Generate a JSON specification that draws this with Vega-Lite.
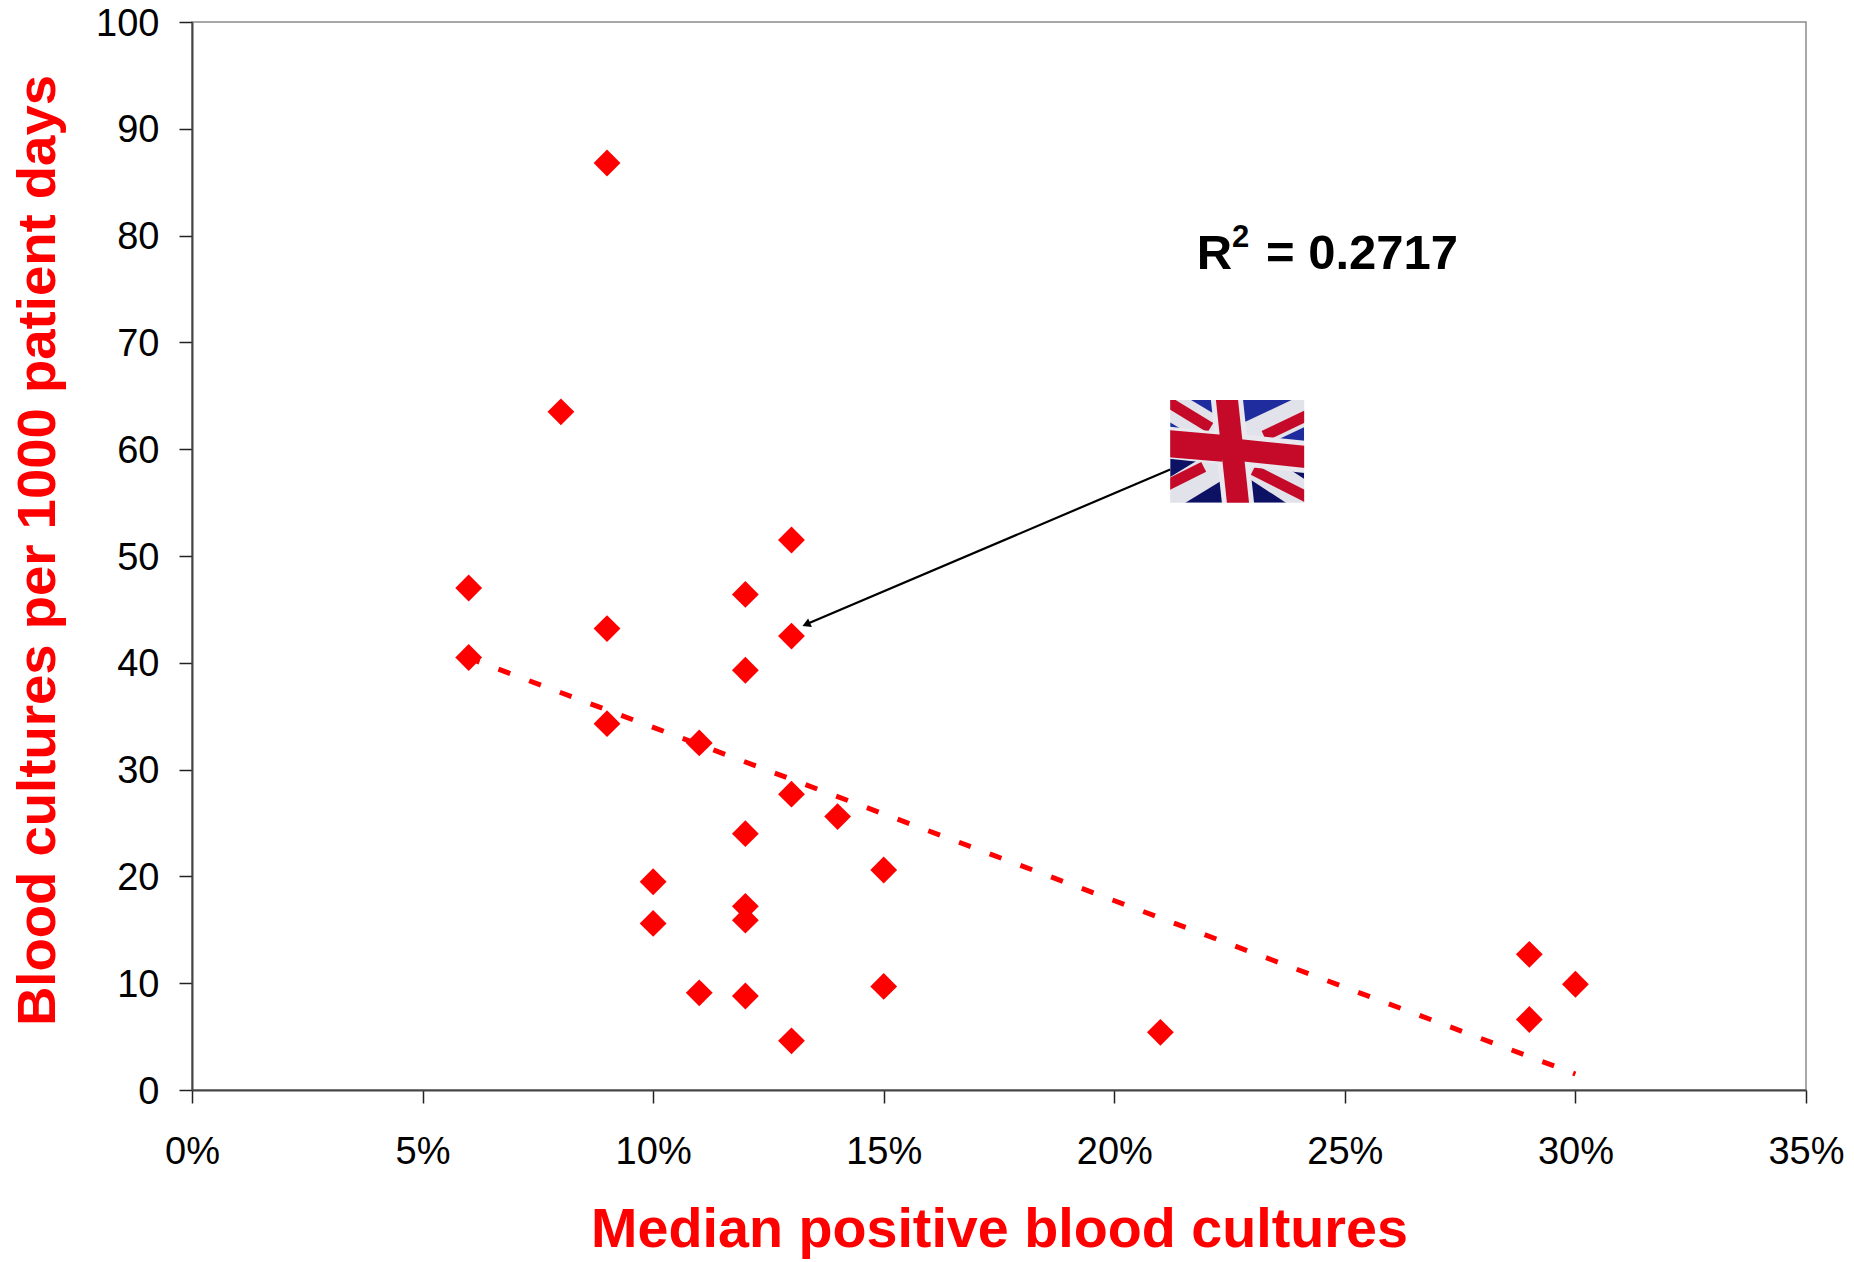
{
"$schema":"https://vega.github.io/schema/vega-lite/v6.json",
"width":1614,"height":1068,
"autosize":"none",
"padding":{"left":192,"top":22,"right":48,"bottom":172},
"background":"white",
"config":{"font":"Liberation Sans","view":{"stroke":"#8c8c8c","strokeWidth":1.5}},
"datasets":{
"points":[{"x":0.06,"y":47},{"x":0.06,"y":40.5},{"x":0.08,"y":63.5},{"x":0.09,"y":86.8},{"x":0.09,"y":43.2},{"x":0.09,"y":34.3},{"x":0.10,"y":19.5},{"x":0.10,"y":15.6},{"x":0.11,"y":32.5},{"x":0.11,"y":9.1},{"x":0.12,"y":46.4},{"x":0.12,"y":39.3},{"x":0.12,"y":24},{"x":0.12,"y":17.2},{"x":0.12,"y":15.9},{"x":0.12,"y":8.8},{"x":0.13,"y":51.5},{"x":0.13,"y":42.5},{"x":0.13,"y":27.7},{"x":0.13,"y":4.6},{"x":0.14,"y":25.6},{"x":0.15,"y":20.6},{"x":0.15,"y":9.7},{"x":0.21,"y":5.4},{"x":0.29,"y":12.7},{"x":0.29,"y":6.6},{"x":0.30,"y":9.9}],
"trend":[{"x":0.06,"y":40.45},{"x":0.30,"y":1.5}],
"arrow":[{"x":0.21212,"y":58.1},{"x":0.1332,"y":43.6}],
"arrowHead":[{"x":0.1332,"y":43.6}],
"noteMain":[{"x":0.2179,"y":76.9,"label":"R"},{"x":0.2329,"y":76.9,"label":"= 0.2717"}],
"noteSup":[{"x":0.2255,"y":78.9,"label":"2"}],
"flagRects":[{"part":"top","x":0.21212,"x2":0.24118,"y":64.6,"y2":59.8},{"part":"bottom","x":0.21212,"x2":0.24118,"y":59.8,"y2":54.99}],
"flagMask":[{"x":0.205,"x2":0.21212,"y":53,"y2":67},{"x":0.24118,"x2":0.248,"y":53,"y2":67},{"x":0.205,"x2":0.248,"y":64.6,"y2":67},{"x":0.205,"x2":0.248,"y":53,"y2":54.99}],
"flagDiag":[
{"seg":"w1","x":0.2092,"y":64.89},{"seg":"w1","x":0.2252,"y":60.76},
{"seg":"w2","x":0.22956,"y":58.83},{"seg":"w2","x":0.24415,"y":54.7},
{"seg":"w3","x":0.24415,"y":64.22},{"seg":"w3","x":0.2281,"y":60.95},
{"seg":"w4","x":0.22374,"y":58.83},{"seg":"w4","x":0.2092,"y":54.99}],
"flagRed":[
{"seg":"r1","x":0.2092,"y":65.08},{"seg":"r1","x":0.22084,"y":62.01},
{"seg":"r2","x":0.23014,"y":58.07},{"seg":"r2","x":0.24415,"y":54.99},
{"seg":"r3","x":0.24415,"y":63.64},{"seg":"r3","x":0.23246,"y":61.24},
{"seg":"r4","x":0.21939,"y":58.35},{"seg":"r4","x":0.2092,"y":56.14}],
"flagCross":[
{"seg":"v","x":0.22432,"y":65.08},{"seg":"v","x":0.22694,"y":54.51},
{"seg":"h","x":0.2107,"y":60.66},{"seg":"h","x":0.24263,"y":59.22}],
"flagBand":[{"x":0.2107,"y":60.56},{"x":0.2237,"y":60.08}]
},
"encoding":{
"x":{"field":"x","type":"quantitative","scale":{"domain":[0,0.35],"nice":false},
"axis":{"values":[0,0.05,0.1,0.15,0.2,0.25,0.3,0.35],"format":".0%","grid":false,"title":"Median positive blood cultures","titleFont":"Liberation Sans","titleFontSize":55.7,"titleFontWeight":"bold","titleColor":"#ff0000","titleX":807,"titleY":156,"titleBaseline":"alphabetic","labelFontSize":38,"labelColor":"#000000","labelPadding":30,"labelFlush":false,"labelOverlap":false,"domainColor":"#444444","domainWidth":2,"tickColor":"#222222","tickSize":13,"tickWidth":1.5}},
"y":{"field":"y","type":"quantitative","scale":{"domain":[0,100],"nice":false},
"axis":{"values":[0,10,20,30,40,50,60,70,80,90,100],"grid":false,"title":"Blood cultures per 1000 patient days","titleFont":"Liberation Sans","titleFontSize":54.5,"titleFontWeight":"bold","titleColor":"#ff0000","titleX":-138,"titleY":528,"titleBaseline":"alphabetic","labelFontSize":38,"labelColor":"#000000","labelPadding":20,"labelOffset":2,"labelFlush":false,"labelOverlap":false,"domainColor":"#444444","domainWidth":2,"tickColor":"#222222","tickSize":13,"tickWidth":1.5}}
},
"layer":[
{"data":{"name":"flagRects"},"mark":{"type":"rect"},"encoding":{"x":{"field":"x","type":"quantitative"},"x2":{"field":"x2"},"y":{"field":"y","type":"quantitative"},"y2":{"field":"y2"},"color":{"field":"part","type":"nominal","scale":{"domain":["top","bottom"],"range":["#1e2c9e","#0c1164"]},"legend":null}}},
{"data":{"name":"flagDiag"},"mark":{"type":"line","stroke":"#e2e2ea","strokeWidth":30,"strokeCap":"butt"},"encoding":{"detail":{"field":"seg"}}},
{"data":{"name":"flagRed"},"mark":{"type":"line","stroke":"#c40a28","strokeWidth":11,"strokeCap":"butt"},"encoding":{"detail":{"field":"seg"}}},
{"data":{"name":"flagCross"},"mark":{"type":"line","stroke":"#e8e8ee","strokeWidth":32,"strokeCap":"butt"},"encoding":{"detail":{"field":"seg"}}},
{"data":{"name":"flagCross"},"mark":{"type":"line","stroke":"#c40a28","strokeWidth":22,"strokeCap":"butt"},"encoding":{"detail":{"field":"seg"}}},
{"data":{"name":"flagBand"},"mark":{"type":"line","stroke":"#c40a28","strokeWidth":27,"strokeCap":"butt"},"encoding":{}},
{"data":{"name":"flagMask"},"mark":{"type":"rect","fill":"white"},"encoding":{"x2":{"field":"x2"},"y2":{"field":"y2"}}},
{"data":{"name":"trend"},"mark":{"type":"line","stroke":"#ff0000","strokeWidth":5,"strokeDash":[12.5,20.3],"strokeDashOffset":1},"encoding":{}},
{"data":{"name":"points"},"mark":{"type":"point","shape":"diamond","filled":true,"fill":"#ff0000","opacity":1,"size":720,"strokeWidth":0},"encoding":{}},
{"data":{"name":"arrow"},"mark":{"type":"line","stroke":"#000000","strokeWidth":2.2},"encoding":{}},
{"data":{"name":"arrowHead"},"mark":{"type":"point","shape":"triangle-up","filled":true,"fill":"#000000","opacity":1,"size":90,"angle":247,"strokeWidth":0},"encoding":{}},
{"data":{"name":"noteMain"},"mark":{"type":"text","font":"Liberation Sans","fontWeight":"bold","fontSize":49,"align":"left","baseline":"alphabetic","color":"#000000"},"encoding":{"text":{"field":"label"}}},
{"data":{"name":"noteSup"},"mark":{"type":"text","font":"Liberation Sans","fontWeight":"bold","fontSize":31,"align":"left","baseline":"alphabetic","color":"#000000"},"encoding":{"text":{"field":"label"}}}
]
}
